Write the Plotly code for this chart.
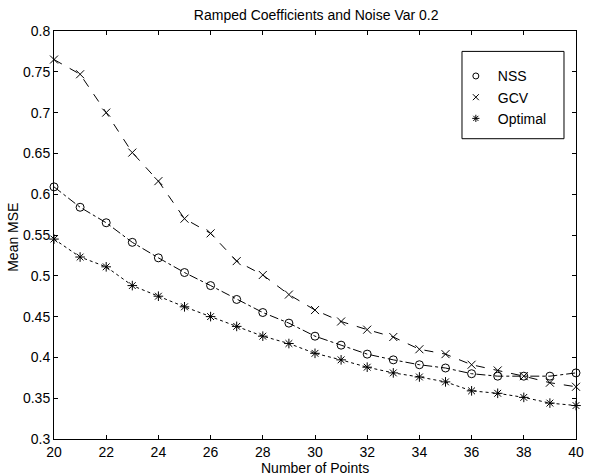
import plotly.graph_objects as go

n_points = list(range(20, 41))
nss = [0.609, 0.584, 0.565, 0.541, 0.522, 0.504, 0.488, 0.471, 0.455, 0.442,
       0.426, 0.415, 0.404, 0.397, 0.391, 0.387, 0.380, 0.377, 0.377, 0.377, 0.381]
gcv = [0.765, 0.747, 0.700, 0.651, 0.616, 0.570, 0.552, 0.518, 0.501, 0.477,
       0.458, 0.444, 0.434, 0.425, 0.410, 0.404, 0.391, 0.384, 0.377, 0.369, 0.364]
optimal = [0.545, 0.523, 0.511, 0.488, 0.475, 0.462, 0.450, 0.438, 0.426, 0.417,
           0.405, 0.397, 0.388, 0.381, 0.376, 0.370, 0.359, 0.356, 0.351, 0.344, 0.341]

series = [
    ("NSS", nss, "dashdot", "circle-open"),
    ("GCV", gcv, "dash", "x-thin-open"),
    ("Optimal", optimal, "dot", "asterisk-open"),
]

fig = go.Figure()
for name, ys, dash, sym in series:
    fig.add_trace(go.Scatter(
        x=n_points, y=ys, mode="lines+markers", name=name, showlegend=False,
        line=dict(color="black", width=1, dash=dash),
        marker=dict(symbol=sym, size=8, color="black", line=dict(width=1, color="black")),
        cliponaxis=False,
    ))
for name, ys, dash, sym in series:
    fig.add_trace(go.Scatter(
        x=[None], y=[None], mode="markers", name=name, showlegend=True,
        marker=dict(symbol=sym, size=6, color="black", line=dict(width=1, color="black")),
    ))

font = "Liberation Sans, Arial, Helvetica, sans-serif"
fig.update_layout(
    width=591, height=476,
    margin=dict(l=54, r=15, t=31, b=37),
    paper_bgcolor="white", plot_bgcolor="white",
    font=dict(family=font, size=14, color="black"),
    title=dict(text="Ramped Coefficients and Noise Var 0.2", x=0.535, xanchor="center",
               y=0.968, yanchor="middle", font=dict(size=14)),
    legend=dict(x=0.766, y=0.928, xanchor="left", yanchor="top",
                borderwidth=0, bgcolor="rgba(0,0,0,0)",
                font=dict(size=14), tracegroupgap=0, itemwidth=34),
    shapes=[dict(type="rect", xref="paper", yref="paper",
                 x0=0.7816, x1=0.977, y0=0.736, y1=0.950,
                 line=dict(color="black", width=1), fillcolor="white", layer="above")],
    annotations=[
        dict(text="Number of Points", xref="paper", yref="paper", x=0.5, y=-0.071,
             xanchor="center", yanchor="middle", showarrow=False, font=dict(size=14)),
        dict(text="Mean MSE", xref="paper", yref="paper", x=-0.079, y=0.495,
             xanchor="center", yanchor="middle", textangle=-90, showarrow=False,
             font=dict(size=14)),
    ],
    xaxis=dict(range=[20, 40], tickmode="linear", tick0=20, dtick=2,
               ticks="inside", ticklen=4, tickcolor="black", showgrid=False,
               zeroline=False, showline=True, linecolor="black", linewidth=1,
               mirror="ticks", tickfont=dict(size=14), automargin=False),
    yaxis=dict(range=[0.3, 0.8], tickmode="linear", tick0=0.3, dtick=0.05,
               ticks="inside", ticklen=4, tickcolor="black", showgrid=False,
               zeroline=False, showline=True, linecolor="black", linewidth=1,
               mirror="ticks", tickformat="~g", tickfont=dict(size=14),
               automargin=False),
)
fig.write_html("out.html")
